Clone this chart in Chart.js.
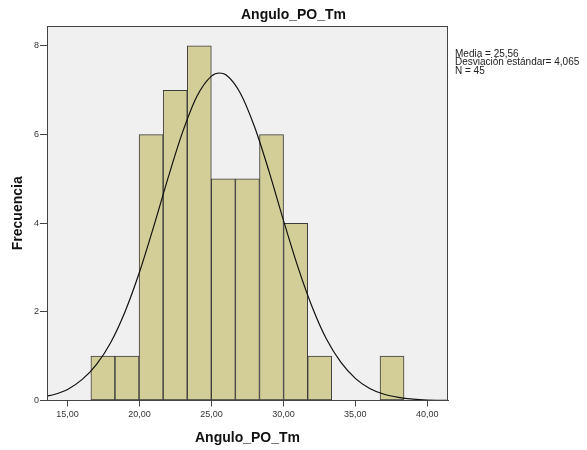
<!DOCTYPE html>
<html>
<head>
<meta charset="utf-8">
<script src="https://cdn.jsdelivr.net/npm/chart.js@4/dist/chart.umd.min.js"></script>
<style>
  html, body { margin: 0; padding: 0; background: #fff; }
  #wrap { width: 587px; height: 450px; }
</style>
</head>
<body>
<div id="wrap"><canvas id="histChart" width="587" height="450"></canvas></div>
<script>
// histogram bins (bin edges) and counts
const binEdges = [16.62, 18.29, 19.97, 21.64, 23.32, 24.99, 26.66, 28.34, 30.01, 31.69, 33.36, 35.04, 36.71, 38.39];
const counts = [1, 1, 6, 7, 8, 5, 5, 6, 4, 1, 0, 0, 1];

// normal curve
const curveX = [13.57, 14, 15, 16, 17, 18, 19, 20, 21, 22, 23, 24, 25, 25.56, 26, 27, 28, 29, 30, 31, 32, 33, 34, 35, 36, 37, 38, 39, 40, 41, 41.44];
const curveY = [0.10, 0.13, 0.25, 0.47, 0.81, 1.31, 2.01, 2.90, 3.94, 5.04, 6.06, 6.87, 7.32, 7.39, 7.35, 6.94, 6.17, 5.17, 4.07, 3.02, 2.11, 1.38, 0.86, 0.50, 0.27, 0.14, 0.07, 0.03, 0.01, 0.005, 0.003];

const xTicks = [15, 20, 25, 30, 35, 40];
const yTicks = [0, 2, 4, 6, 8];

const chartTitle = 'Angulo_PO_Tm';
const xTitle = 'Angulo_PO_Tm';
const yTitle = 'Frecuencia';
const statsLines = ['Media = 25,56', 'Desviación estándar= 4,065', 'N = 45'];

const FONT = "'Liberation Sans', Arial, sans-serif";

const barData = counts.map((c, i) => ({ x: (binEdges[i] + binEdges[i + 1]) / 2, y: c }));
const lineData = curveX.map((x, i) => ({ x: x, y: curveY[i] }));

// grey plot background + frame, title and stats text
const decorations = {
  id: 'decorations',
  beforeDraw(chart) {
    const { ctx, chartArea: a } = chart;
    ctx.save();
    ctx.fillStyle = '#f0f0f0';
    ctx.fillRect(a.left, a.top, a.right - a.left, a.bottom - a.top);
    ctx.restore();
  },
  afterDraw(chart) {
    const { ctx, chartArea: a } = chart;
    ctx.save();
    ctx.strokeStyle = '#444';
    ctx.lineWidth = 1;
    ctx.strokeRect(Math.round(a.left) + 0.5, Math.round(a.top) + 0.5,
      Math.round(a.right - a.left) - 1, Math.round(a.bottom - a.top) - 1);

    ctx.fillStyle = '#111';
    ctx.font = `bold 14px ${FONT}`;
    ctx.textAlign = 'center';
    ctx.textBaseline = 'alphabetic';
    ctx.fillText(chartTitle, 293.5, 18.5);

    ctx.font = `10px ${FONT}`;
    ctx.textAlign = 'left';
    ctx.fillStyle = '#222';
    statsLines.forEach((t, i) => ctx.fillText(t, 455, 57 + i * 8.3));
    ctx.restore();
  }
};

const ctx = document.getElementById('histChart').getContext('2d');

new Chart(ctx, {
  type: 'bar',
  data: {
    datasets: [
      {
        type: 'line',
        data: lineData,
        borderColor: '#111',
        borderWidth: 1.2,
        pointRadius: 0,
        fill: false,
        cubicInterpolationMode: 'monotone',
        order: 0
      },
      {
        type: 'bar',
        data: barData,
        backgroundColor: '#d3ce98',
        borderColor: '#3c3c3c',
        borderWidth: 1,
        borderSkipped: false,
        barPercentage: 1,
        categoryPercentage: 1,
        order: 1
      }
    ]
  },
  options: {
    responsive: false,
    animation: false,
    events: [],
    layout: { padding: { top: 26, right: 139, left: 0, bottom: 0 } },
    plugins: {
      legend: { display: false },
      title: { display: false },
      tooltip: { enabled: false }
    },
    scales: {
      x: {
        type: 'linear',
        min: 13.57,
        max: 41.44,
        offset: false,
        afterFit(s) { s.height = 49.5; },
        afterBuildTicks(s) { s.ticks = xTicks.map(v => ({ value: v })); },
        grid: { offset: false, drawOnChartArea: false, drawTicks: true, tickLength: 6, color: '#444' },
        border: { color: '#444' },
        ticks: {
          includeBounds: false,
          padding: 3,
          color: '#333',
          font: { family: FONT, size: 9 },
          maxRotation: 0,
          callback: v => v.toFixed(2).replace('.', ',')
        },
        title: {
          display: true,
          text: xTitle,
          color: '#111',
          font: { family: FONT, size: 14, weight: 'bold' },
          padding: { top: 0, bottom: 3 }
        }
      },
      y: {
        min: 0,
        max: 8.45,
        afterFit(s) { s.width = 47; },
        afterBuildTicks(s) { s.ticks = yTicks.map(v => ({ value: v })); },
        grid: { drawOnChartArea: false, drawTicks: true, tickLength: 7, color: '#444' },
        border: { color: '#444' },
        ticks: {
          includeBounds: false,
          padding: 1,
          color: '#333',
          font: { family: FONT, size: 9 },
          callback: v => String(v)
        },
        title: {
          display: true,
          text: yTitle,
          color: '#111',
          font: { family: FONT, size: 14, weight: 'bold' },
          padding: { top: 10, bottom: 0 }
        }
      }
    }
  },
  plugins: [decorations]
});
</script>
</body>
</html>
